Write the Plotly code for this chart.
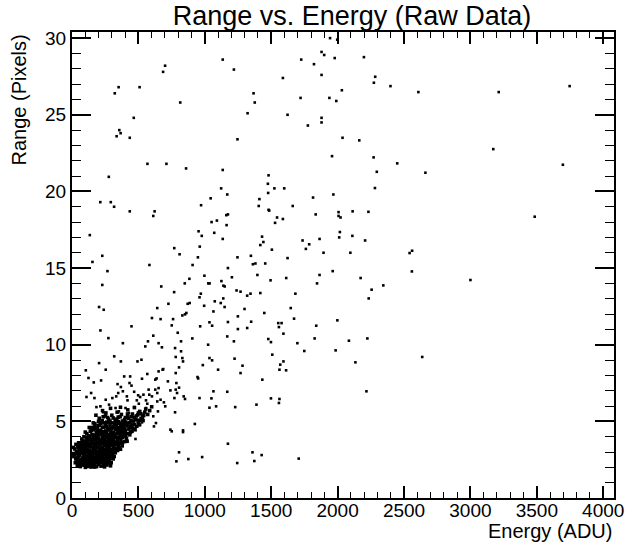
import plotly.graph_objects as go

# ---- Data: (energy ADU, range pixels) ----
upper_points = [
    (1943,30.0),(1997,29.9),(1879,29.1),(1899,28.9),(1978,28.7),(1135,28.6),(1726,28.6),(701,28.2),
    (1822,28.3),(686,27.8),(1219,27.95),(1879,27.6),(1588,27.4),(351,26.8),(322,26.4),(509,26.8),
    (2032,26.6),(1367,26.4),(1376,25.8),(815,25.8),(1721,26.1),(1938,26.1),(1990,25.9),(465,24.8),
    (1322,25.1),(1623,25.0),(1879,24.8),(1879,24.5),(1776,24.3),(356,24.0),(366,23.8),(336,23.6),
    (435,23.5),(1246,23.4),(2037,23.5),(1958,22.3),(568,21.8),(711,21.8),(859,21.5),(1135,21.4),
    (277,20.95),(1480,21.05),(1475,20.5),(1123,20.2),(1169,19.8),(1524,20.2),(1598,20.2),(1477,19.9),
    (1968,19.8),(213,19.3),(292,19.3),(317,19.0),(1044,19.55),(1411,19.5),(972,19.1),(1406,19.05),
    (1815,19.6),(1662,19.05),(435,18.7),(622,18.7),(612,18.4),(1480,18.8),(1485,18.75),(1835,18.5),
    (2007,18.65),(2007,18.4),(2022,18.3),(2113,18.7),(1162,18.45),(1174,18.5),(1544,18.3),(1588,18.2),
    (1091,18.1),(1051,18.0),(1164,17.8),(1529,17.95),(134,17.15),(953,17.4),(1071,17.3),(977,17.1),
    (1431,17.05),(1135,16.9),(2111,17.1),(2017,17.35),(2012,17.0),(1864,16.9),(1736,16.8),(1441,16.7),
    (1418,16.5),(1786,16.55),(1761,16.25),(1505,16.2),(770,16.3),(962,16.4),(810,15.9),(1894,16.0),
    (2096,16.0),(228,15.8),(154,15.4),(948,15.7),(1246,15.7),(1347,15.8),(1623,15.65),(1362,15.25),
    (1381,15.3),(1455,15.3),(583,15.2),(908,15.2),(267,14.8),(1174,15.0),(1963,14.8),(1396,14.55),
    (997,14.5),(1613,14.35),(1495,14.2),(1864,14.55),(884,14.3),(1026,14.0),(1036,14.0),(1125,14.15),
    (1204,14.4),(849,14.0),(228,13.9),(672,13.8),(1140,13.85),(1150,13.8),(1845,14.0),
]

right_points = [
    (2198,28.76),(2283,27.48),(2273,27.09),(2398,26.87),(2608,26.48),(3213,26.48),(3747,26.87),
    (2163,23.33),(3172,22.76),(2271,22.22),(2449,21.83),(2295,21.28),(2661,21.22),(3696,21.74),
    (2281,20.22),(2232,18.67),(3484,18.35),(2207,16.8),(2542,15.98),(2561,16.13),(2559,14.78),
    (2173,14.35),(3000,14.22),(2256,13.59),(2344,13.87),
    (2234,13.02),(1998,11.59),(1839,11.24),(1827,10.41),(2085,10.26),(2224,10.41),(1749,9.59),
    (1985,9.63),(2134,8.85),(2637,9.2),(2217,6.96),(1707,2.57),
]

middle_points = [
    (204,12.46),(239,12.28),(214,10.93),(274,10.43),(448,11.2),(383,10.1),(642,12.39),(726,12.67),
    (769,13.43),(602,11.74),(667,11.67),(572,10.22),(612,10.59),(652,10.1),(677,9.83),(552,9.89),
    (493,8.91),(523,9.02),(318,9.24),(368,8.91),(204,8.8),(254,8.37),(104,8.33),(124,7.83),
    (164,7.54),(219,7.67),(144,6.85),(109,6.59),(169,6.52),(761,11.67),(751,11.26),(796,10.78),
    (776,9.78),(821,10.22),(831,11.91),(851,11.98),(871,12.67),(886,12.72),(861,12.07),(970,13.33),
    (960,13.09),(995,12.54),(1035,11.46),(1055,11.24),(965,11.2),(906,10.41),(821,9.57),(831,9.13),
    (836,8.91),(781,9.2),(806,8.52),(781,8.15),(945,7.89),(950,7.8),(985,8.67),(1025,10.0),
    (1035,9.13),(1055,8.98),(1100,8.37),(1065,12.17),(1075,12.83),(1120,12.72),(1139,13.02),
    (1149,12.46),(1174,11.48),(1169,10.54),(1219,10.22),(1249,11.85),(1249,11.02),(1239,13.54),
    (1269,13.46),(1299,12.33),(1319,13.2),(1344,13.33),(1319,11.09),(1349,11.5),(1418,13.37),
    (1448,12.07),(1478,10.37),(1498,10.17),(1553,11.41),(1578,11.41),(1558,11.15),(1592,10.72),
    (1647,12.39),(1682,13.33),(1672,11.7),(1697,10.1),(1508,9.35),(1592,8.91),(1612,8.33),
    (1568,8.7),(1562,8.37),(1433,7.72),(1224,9.09),(1284,8.63),(1269,8.15),(1169,6.93),(1229,5.93),
    (1389,6.09),(1562,6.46),(1558,6.2),(1498,6.5),
    (527,7.78),(567,8.09),(627,7.72),(637,7.8),(682,8.37),(687,8.41),(652,8.26),(722,7.61),
    (741,7.02),(781,7.07),(771,6.52),(791,6.85),(841,6.63),(851,6.46),(786,7.5),(806,7.2),
    (741,4.46),(776,5.59),(836,4.41),(925,4.83),(960,6.52),(1065,6.96),(1050,6.5),(1035,5.89),
    (1085,5.98),(642,6.3),(667,6.41),(692,6.24),(702,5.98),(627,7.07),(652,7.17),(642,6.85),
    (577,7.07),(582,6.74),(602,6.63),(647,5.65),(612,5.33),(632,4.89),(617,4.67),(468,5.93),
    (498,6.7),(513,6.59),(538,6.74),(557,6.37),(567,6.15),(503,6.15),(488,6.37),(468,6.93),
    (433,7.5),(448,7.33),(438,7.93),(393,7.93),(343,7.43),(368,7.24),(383,6.96),(348,6.85),
    (333,6.63),(413,6.63),(418,6.37),(304,6.52),(279,6.09),(254,6.41),(184,5.93),(214,5.98),
    (234,5.59),(328,5.87),(353,5.65),(403,5.87),(428,5.54),(527,5.43),(557,5.87),(493,5.11),
    (438,4.89),(478,3.85),(513,4.76),(527,4.93),(751,4.35),(836,4.3),
    (806,2.98),(786,2.39),(876,2.54),(980,2.67),(1174,3.54),(1244,2.28),(1359,2.98),(1373,2.41),
    (1428,2.8),
]

cluster_points = [
    # range 2.0 - 2.5
    (25,2.3),(40,2.1),(52,2.4),(63,2.05),(71,2.3),(84,2.15),(92,2.45),(101,2.0),(110,2.25),(118,2.4),
    (126,2.1),(135,2.35),(143,2.02),(151,2.2),(160,2.45),(168,2.12),(176,2.3),(185,2.05),(193,2.4),
    (202,2.18),(210,2.32),(219,2.08),(228,2.44),(236,2.2),(245,2.03),(254,2.36),(263,2.15),(272,2.28),
    (281,2.42),(290,2.1),(48,2.22),(77,2.48),(96,2.18),(122,2.28),(147,2.42),(171,2.02),(198,2.27),
    (224,2.34),(249,2.22),(133,2.15),(157,2.07),(88,2.35),(66,2.42),(115,2.06),(205,2.46),(240,2.12),
    (180,2.38),
    # range 2.5 - 3.0
    (14,2.7),(28,2.55),(35,2.9),(45,2.62),(57,2.8),(68,2.52),(75,2.95),(86,2.68),(94,2.85),(104,2.58),
    (112,2.74),(121,2.96),(130,2.6),(138,2.82),(146,2.53),(155,2.7),(163,2.92),(172,2.64),(181,2.78),
    (189,2.56),(197,2.9),(206,2.68),(215,2.84),(223,2.55),(232,2.72),(241,2.94),(250,2.6),(259,2.8),
    (268,2.66),(277,2.9),(286,2.58),(295,2.76),(306,2.88),(318,2.7),(22,2.84),(51,2.75),(80,2.6),
    (99,2.98),(117,2.67),(142,2.72),(167,2.55),(186,2.95),(211,2.58),(237,2.82),(262,2.52),(282,2.74),
    (300,2.62),(326,2.95),
    # range 3.0 - 3.5
    (20,3.2),(33,3.05),(42,3.4),(55,3.12),(64,3.3),(73,3.02),(82,3.45),(91,3.18),(100,3.35),(108,3.06),
    (117,3.28),(126,3.48),(134,3.1),(143,3.32),(152,3.04),(161,3.22),(169,3.44),(178,3.14),(187,3.36),
    (196,3.02),(205,3.25),(214,3.46),(222,3.12),(231,3.3),(240,3.05),(249,3.42),(258,3.2),(267,3.38),
    (276,3.08),(285,3.28),(294,3.48),(304,3.15),(314,3.35),(325,3.06),(337,3.25),(350,3.44),(365,3.18),
    (378,3.4),(60,3.47),(88,3.25),(112,3.16),(138,3.4),(165,3.08),(192,3.3),(218,3.2),(245,3.15),
    (272,3.45),(298,3.05),(320,3.22),(343,3.1),
    # range 3.5 - 4.0
    (62,3.6),(74,3.85),(86,3.55),(97,3.72),(108,3.95),(119,3.62),(129,3.8),(139,3.52),(149,3.7),
    (158,3.92),(167,3.58),(176,3.78),(185,3.98),(194,3.64),(203,3.84),(212,3.54),(221,3.74),(230,3.94),
    (239,3.6),(248,3.82),(257,3.52),(266,3.7),(275,3.9),(284,3.62),(293,3.8),(302,3.56),(312,3.76),
    (322,3.96),(333,3.64),(344,3.84),(356,3.58),(368,3.78),(381,3.95),(395,3.68),(410,3.88),(80,3.7),
    (103,3.52),(125,3.9),(154,3.82),(180,3.55),(208,3.68),(235,3.78),(262,3.98),(288,3.68),(316,3.58),
    (340,3.72),(362,3.92),
    # range 4.0 - 4.5
    (112,4.2),(125,4.05),(138,4.35),(150,4.15),(161,4.45),(172,4.08),(183,4.3),(194,4.02),(205,4.22),
    (216,4.42),(227,4.12),(238,4.32),(249,4.05),(260,4.25),(271,4.46),(282,4.15),(293,4.35),(304,4.08),
    (315,4.28),(326,4.48),(338,4.18),(350,4.38),(362,4.1),(375,4.3),(388,4.05),(402,4.4),(418,4.2),
    (435,4.12),(452,4.35),(145,4.42),(188,4.16),(222,4.28),(255,4.38),(287,4.02),(320,4.14),(345,4.25),
    (370,4.45),(396,4.22),
    # range 4.5 - 5.0
    (155,4.6),(172,4.85),(190,4.55),(206,4.75),(222,4.95),(238,4.62),(254,4.82),(270,4.52),(286,4.7),
    (302,4.9),(318,4.58),(334,4.78),(350,4.98),(366,4.65),(382,4.85),(398,4.55),(415,4.72),(432,4.92),
    (450,4.6),(468,4.8),(488,4.68),(262,4.95),(310,4.66),(358,4.88),(405,4.95),
    # range 5.0 - 6.0
    (205,5.2),(228,5.05),(252,5.35),(276,5.15),(300,5.4),(325,5.08),(348,5.28),(372,5.45),(396,5.12),
    (420,5.32),(444,5.05),(470,5.25),(495,5.42),(520,5.18),(540,5.38),(310,5.22),(380,5.02),(455,5.48),
    (230,5.7),(290,5.85),(340,5.6),(420,5.75),(470,5.9),(510,5.65),(555,5.8),(600,5.95),(365,5.92),
    (255,5.55),
]

cluster_fill_points = [
    (30,2.6),(58,2.95),(70,3.15),(95,2.5),(107,3.45),(128,2.88),(140,3.0),(153,3.55),(166,3.3),(177,2.5),
    (188,3.5),(200,2.75),(213,3.0),(226,3.55),(233,3.85),(244,3.45),(252,2.9),(265,3.1),(278,3.6),(290,3.0),
    (298,3.9),(308,3.45),(318,4.05),(330,3.5),(342,3.95),(355,3.3),(368,4.2),(380,3.6),(392,4.4),(405,4.05),
    (415,3.7),(428,4.5),(440,4.3),(460,4.55),(475,4.45),(498,4.9),(510,5.05),(530,5.25),(260,4.65),(280,4.9),
    (295,4.55),(330,4.95),(345,4.6),(375,4.7),(390,5.0),(410,4.85),(425,5.2),(445,4.8),(480,5.1),(500,5.55),
    (115,3.75),(132,4.0),(145,3.65),(160,4.1),(175,3.95),(190,4.4),(200,3.9),(215,4.15),(228,4.6),(245,4.25),
    (255,3.6),(268,4.1),(283,4.45),(300,4.2),(310,3.85),(45,3.3),(38,2.45),(60,2.25),(82,2.9),(98,3.1),
    (120,2.5),(150,2.6),(162,2.3),(190,2.7),(218,2.45),(242,2.55),(270,2.4),(295,2.3),(310,2.55),(8,2.9),
    (10,3.3),(30,3.5),(50,3.6),(90,4.0),(100,4.3),(130,4.6),(170,4.7),(200,5.0),(235,5.3),(180,5.4),
    (322,4.82),(338,5.15),(362,5.3),(385,4.6),(402,5.25),(418,5.48),(432,4.65),(448,5.3),(462,5.02),
    (484,5.35),(505,4.78),(518,5.5),(535,5.05),(548,5.6),(570,5.45),(585,5.7),(352,4.52),(392,4.78),
    (286,5.02),(268,5.25),(242,4.9),(216,4.85),(196,4.72),(178,4.55),(160,4.9),
]

x_tick_values = [0, 500, 1000, 1500, 2000, 2500, 3000, 3500, 4000]
y_tick_values = [0, 5, 10, 15, 20, 25, 30]

title_text = "Range vs. Energy (Raw Data)"
x_title = "Energy (ADU)"
y_title = "Range (Pixels)"

sparse = upper_points + right_points + middle_points
dense = cluster_points + cluster_fill_points

FONT = "Liberation Sans, Arial, Helvetica, sans-serif"

fig = go.Figure()
fig.add_trace(go.Scatter(
    x=[p[0] for p in dense], y=[p[1] for p in dense], mode="markers",
    marker=dict(color="black", size=3.6, symbol="square", line=dict(width=0)),
    showlegend=False, hoverinfo="skip",
))
fig.add_trace(go.Scatter(
    x=[p[0] for p in sparse], y=[p[1] for p in sparse], mode="markers",
    marker=dict(color="black", size=2.6, symbol="square", line=dict(width=0)),
    showlegend=False, hoverinfo="skip",
))

axis_common = dict(
    showgrid=False, zeroline=False, showline=True, linecolor="black", linewidth=2,
    mirror="allticks", ticks="inside", tickcolor="black", tickwidth=1.5,
    tickfont=dict(family=FONT, size=19, color="black"),
)

fig.update_xaxes(
    range=[0, 4081], tickvals=x_tick_values, ticklen=12, ticklabelstandoff=-6,
    minor=dict(dtick=100, ticks="inside", ticklen=6, tickcolor="black", tickwidth=1.2, showgrid=False),
    **axis_common,
)
fig.update_yaxes(
    range=[0, 30.4], tickvals=y_tick_values, ticklen=19,
    minor=dict(dtick=1, ticks="inside", ticklen=9, tickcolor="black", tickwidth=1.2, showgrid=False),
    **axis_common,
)

fig.update_layout(
    width=636, height=546,
    margin=dict(l=72, r=12, t=32, b=48),
    plot_bgcolor="white", paper_bgcolor="white",
    title=dict(text=title_text, x=352/636, xanchor="center", y=1 - 16/546, yanchor="middle",
               font=dict(family=FONT, size=27, color="black")),
    annotations=[
        dict(text=x_title, xref="paper", yref="paper", x=1.0, y=-(531 - 498) / 466,
             xanchor="right", yanchor="middle", showarrow=False,
             font=dict(family=FONT, size=20, color="black")),
        dict(text=y_title, xref="paper", yref="paper", x=(18 - 72) / 552, y=1.0,
             xanchor="center", yanchor="top", textangle=-90, showarrow=False,
             font=dict(family=FONT, size=20, color="black")),
    ],
)

fig.write_html("out.html")
